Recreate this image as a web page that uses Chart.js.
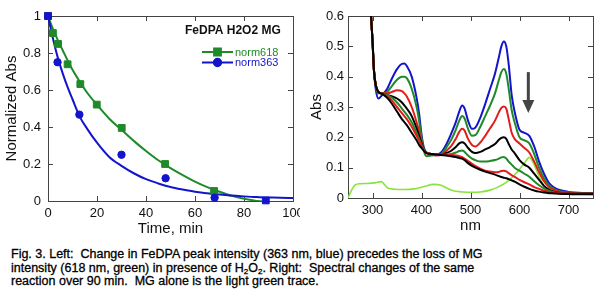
<!DOCTYPE html>
<html>
<head>
<meta charset="utf-8">
<script src="https://cdn.jsdelivr.net/npm/chart.js@4"></script>
<style>
  body { margin: 0; background: #fff; width: 604px; height: 292px; overflow: hidden; position: relative; font-family: Arial, "Liberation Sans", sans-serif; }
  #left { position: absolute; left: 0; top: 0; }
  #right { position: absolute; left: 300px; top: 0; }
  .caption { position: absolute; left: 11px; top: 248px; font-size: 12.5px; line-height: 13.5px; white-space: pre; color: #000; -webkit-text-stroke: 0.3px #000; }
  .caption sub { font-size: 8px; vertical-align: -2px; line-height: 0; }
</style>
</head>
<body>
<canvas id="left" width="300" height="240" style="width:300px;height:240px"></canvas>
<canvas id="right" width="304" height="240" style="width:304px;height:240px"></canvas>
<div class="caption">Fig. 3. Left:  Change in FeDPA peak intensity (363 nm, blue) precedes the loss of MG
intensity (618 nm, green) in presence of H<sub>2</sub>O<sub>2</sub>. Right:  Spectral changes of the same
reaction over 90 min.  MG alone is the light green trace.</div>
<script>
// left panel: normalized decay
const time618 = [0, 2, 4.1, 8, 13.2, 19.9, 30.1, 47.8, 67.8];
const norm618 = [1, 0.908, 0.849, 0.739, 0.632, 0.521, 0.395, 0.2, 0.054];
const time363 = [0, 3.9, 12.8, 30, 48, 68, 88.9];
const norm363 = [1, 0.75, 0.467, 0.25, 0.123, 0.018, 0.003];
const marker363 = ['rect', 'circle', 'circle', 'circle', 'circle', 'circle', 'rect'];

const fitTime618 = [0, 2, 4, 6, 8, 10, 13, 16, 20, 25, 30, 35, 40, 45, 50, 55, 60, 65, 70, 75, 80, 84, 88];
const fit618 = [1, 0.93, 0.87, 0.815, 0.76, 0.71, 0.645, 0.585, 0.52, 0.445, 0.385, 0.325, 0.27, 0.22, 0.178, 0.14, 0.105, 0.075, 0.05, 0.028, 0.012, 0.003, -0.004];
const fitTime363 = [0, 2, 4, 6, 8, 10, 13, 16, 20, 25, 30, 35, 40, 45, 50, 55, 60, 65, 70, 75, 80, 85, 90, 95, 100];
const fit363 = [1, 0.88, 0.775, 0.69, 0.615, 0.55, 0.455, 0.39, 0.315, 0.238, 0.19, 0.15, 0.118, 0.095, 0.076, 0.062, 0.05, 0.042, 0.035, 0.03, 0.025, 0.021, 0.019, 0.017, 0.016];

const timeTicks = [0, 20, 40, 60, 80, 100];
const normTicks = [0, 0.2, 0.4, 0.6, 0.8, 1];
const normLabels = ['0', '0.2', '0.4', '0.6', '0.8', '1'];

// right panel: spectra
const wavelengths = [290, 297, 300, 303, 307, 312, 320, 330, 340, 350, 360, 365, 370, 380, 390, 395, 400, 405, 410, 420,
  430, 440, 450, 460, 470, 477, 483, 488, 495, 503, 510, 520, 530, 540, 550, 558, 563, 568, 573, 578,
  584, 590, 600, 610, 620, 630, 640, 650, 660, 670, 680, 700, 720, 750];
const spec0 = [0.75, 0.6, 0.52, 0.42, 0.355, 0.328, 0.34, 0.36, 0.395, 0.425, 0.442, 0.443, 0.435, 0.4, 0.33, 0.28, 0.21, 0.165, 0.15, 0.145,
  0.142, 0.15, 0.175, 0.21, 0.25, 0.285, 0.305, 0.295, 0.255, 0.228, 0.232, 0.265, 0.31, 0.36, 0.41, 0.465, 0.5, 0.516, 0.5, 0.44,
  0.34, 0.285, 0.225, 0.215, 0.205, 0.17, 0.12, 0.08, 0.05, 0.035, 0.027, 0.02, 0.017, 0.016];
const spec1 = [0.75, 0.6, 0.52, 0.42, 0.365, 0.345, 0.345, 0.35, 0.37, 0.39, 0.4, 0.4, 0.395, 0.36, 0.3, 0.255, 0.2, 0.155, 0.138, 0.14,
  0.142, 0.145, 0.165, 0.19, 0.225, 0.255, 0.27, 0.262, 0.228, 0.205, 0.207, 0.235, 0.27, 0.305, 0.345, 0.39, 0.415, 0.425, 0.41, 0.36,
  0.29, 0.25, 0.2, 0.19, 0.18, 0.145, 0.1, 0.065, 0.042, 0.03, 0.023, 0.018, 0.016, 0.015];
const spec2 = [0.75, 0.6, 0.52, 0.42, 0.37, 0.35, 0.345, 0.345, 0.35, 0.355, 0.352, 0.345, 0.335, 0.3, 0.25, 0.22, 0.185, 0.16, 0.148, 0.143,
  0.14, 0.142, 0.155, 0.17, 0.195, 0.218, 0.228, 0.222, 0.195, 0.175, 0.17, 0.183, 0.205, 0.23, 0.255, 0.283, 0.297, 0.302, 0.295, 0.26,
  0.215, 0.195, 0.18, 0.165, 0.15, 0.12, 0.085, 0.055, 0.036, 0.027, 0.021, 0.017, 0.015, 0.015];
const spec3 = [0.75, 0.6, 0.52, 0.42, 0.37, 0.35, 0.345, 0.34, 0.335, 0.328, 0.315, 0.305, 0.295, 0.27, 0.23, 0.205, 0.18, 0.16, 0.15, 0.145,
  0.145, 0.142, 0.148, 0.155, 0.168, 0.18, 0.184, 0.18, 0.165, 0.152, 0.148, 0.152, 0.16, 0.168, 0.178, 0.192, 0.198, 0.2, 0.195, 0.178,
  0.16, 0.148, 0.125, 0.11, 0.1, 0.08, 0.06, 0.04, 0.028, 0.021, 0.017, 0.015, 0.014, 0.014];
const spec4 = [0.75, 0.6, 0.52, 0.42, 0.37, 0.35, 0.345, 0.34, 0.33, 0.315, 0.295, 0.285, 0.275, 0.25, 0.215, 0.195, 0.175, 0.16, 0.15, 0.145,
  0.145, 0.143, 0.143, 0.145, 0.15, 0.155, 0.157, 0.152, 0.14, 0.13, 0.125, 0.12, 0.12, 0.122, 0.125, 0.13, 0.134, 0.135, 0.13, 0.12,
  0.11, 0.1, 0.09, 0.08, 0.07, 0.055, 0.042, 0.032, 0.024, 0.019, 0.016, 0.014, 0.013, 0.013];
const spec5 = [0.75, 0.6, 0.52, 0.42, 0.37, 0.35, 0.345, 0.335, 0.32, 0.3, 0.28, 0.27, 0.26, 0.235, 0.205, 0.19, 0.17, 0.158, 0.15, 0.145,
  0.143, 0.142, 0.142, 0.142, 0.14, 0.138, 0.135, 0.13, 0.122, 0.113, 0.105, 0.097, 0.09, 0.087, 0.085, 0.086, 0.089, 0.09, 0.088, 0.082,
  0.075, 0.07, 0.06, 0.052, 0.045, 0.036, 0.03, 0.024, 0.02, 0.017, 0.016, 0.014, 0.013, 0.013];
const spec6 = [0.75, 0.6, 0.52, 0.42, 0.37, 0.35, 0.343, 0.33, 0.31, 0.285, 0.26, 0.25, 0.24, 0.215, 0.19, 0.175, 0.165, 0.155, 0.148, 0.145,
  0.143, 0.142, 0.14, 0.138, 0.135, 0.132, 0.13, 0.125, 0.115, 0.106, 0.1, 0.093, 0.087, 0.082, 0.077, 0.072, 0.069, 0.067, 0.065, 0.062,
  0.058, 0.054, 0.045, 0.037, 0.03, 0.025, 0.021, 0.018, 0.016, 0.015, 0.014, 0.013, 0.012, 0.012];
const specColors = ['#1414cc', '#1e8a28', '#e41c1c', '#000000', '#1e8a28', '#e41c1c', '#000000'];

const mgWave = [250, 257, 265, 275, 290, 305, 318, 324, 332, 345, 365, 385, 405, 425, 440, 455, 470, 485, 500, 520,
  540, 555, 570, 585, 600, 610, 620, 630, 640, 650, 660, 680, 700, 750];
const mgAbs = [0, 0.025, 0.043, 0.047, 0.048, 0.05, 0.054, 0.045, 0.032, 0.029, 0.028, 0.03, 0.038, 0.045, 0.042, 0.03, 0.022, 0.02, 0.019, 0.02,
  0.026, 0.035, 0.048, 0.068, 0.095, 0.115, 0.134, 0.11, 0.07, 0.04, 0.025, 0.016, 0.013, 0.012];

const nmTicks = [300, 400, 500, 600, 700];
const nmLabels = ['300', '400', '500', '600', '700'];
const absTicks = [0, 0.1, 0.2, 0.3, 0.4, 0.5, 0.6];
const absLabels = ['0', '0.1', '0.2', '0.3', '0.4', '0.5', '0.6'];
const timeLabels = ['0', '20', '40', '60', '80', '100'];
const arrowNm = 618;
const arrowFrom = 0.415;
const arrowTo = 0.28;

const FONT = 'Arial, "Liberation Sans", sans-serif';
const BLUE = '#1414cc';
const GREEN = '#1e8a28';
const FRAME = '#444';

function pts(xs, ys) {
  return xs.map((x, i) => ({x: x, y: ys[i]}));
}

// box round the plot area with short inward ticks on every side
const frameTicks = {
  id: 'frameTicks',
  beforeDatasetsDraw(chart) {
    const ctx = chart.ctx;
    const a = chart.chartArea;
    const xs = chart.scales.x;
    const ys = chart.scales.y;
    ctx.save();
    ctx.strokeStyle = FRAME;
    ctx.lineWidth = 1;
    ctx.strokeRect(Math.round(a.left) + 0.5, Math.round(a.top) + 0.5, Math.round(a.right - a.left), Math.round(a.bottom - a.top));
    ctx.beginPath();
    xs.ticks.forEach(t => {
      const px = Math.round(xs.getPixelForValue(t.value)) + 0.5;
      ctx.moveTo(px, a.bottom); ctx.lineTo(px, a.bottom - 5);
      ctx.moveTo(px, a.top); ctx.lineTo(px, a.top + 5);
    });
    ys.ticks.forEach(t => {
      const py = Math.round(ys.getPixelForValue(t.value)) + 0.5;
      ctx.moveTo(a.left, py); ctx.lineTo(a.left + 5, py);
      ctx.moveTo(a.right, py); ctx.lineTo(a.right - 5, py);
    });
    ctx.stroke();
    ctx.restore();
  }
};

const leftNotes = {
  id: 'leftNotes',
  afterDraw(chart) {
    const ctx = chart.ctx;
    ctx.save();
    ctx.textAlign = 'left';
    ctx.textBaseline = 'middle';
    ctx.font = 'bold 12px ' + FONT;
    ctx.fillStyle = '#111';
    ctx.fillText('FeDPA H2O2 MG', 185, 31);
    const rows = [
      {label: 'norm618', color: GREEN, style: 'rect', r: 4.8, y: 52},
      {label: 'norm363', color: BLUE, style: 'circle', r: 3.7, y: 62.5}
    ];
    ctx.font = '11px ' + FONT;
    rows.forEach(row => {
      ctx.strokeStyle = row.color;
      ctx.fillStyle = row.color;
      ctx.lineWidth = 2;
      ctx.beginPath();
      ctx.moveTo(202, row.y); ctx.lineTo(233, row.y);
      ctx.stroke();
      Chart.helpers.drawPoint(ctx, {pointStyle: row.style, radius: row.r, borderWidth: 1}, 217.5, row.y);
      ctx.fillStyle = row.color;
      ctx.fillText(row.label, 235, row.y + 0.5);
    });
    ctx.restore();
  }
};

const arrowNote = {
  id: 'arrowNote',
  afterDraw(chart) {
    const ctx = chart.ctx;
    const px = chart.scales.x.getPixelForValue(arrowNm);
    const y0 = chart.scales.y.getPixelForValue(arrowFrom);
    const y1 = chart.scales.y.getPixelForValue(arrowTo);
    ctx.save();
    ctx.fillStyle = '#444';
    ctx.fillRect(px - 1.5, y0, 3, y1 - y0 - 10);
    ctx.beginPath();
    ctx.moveTo(px - 6, y1 - 13);
    ctx.lineTo(px + 6, y1 - 13);
    ctx.lineTo(px, y1);
    ctx.closePath();
    ctx.fill();
    ctx.restore();
  }
};

function axisX(min, max, ticks, labels, title, height, titlePad) {
  return {
    type: 'linear', min: min, max: max,
    grid: {display: false, drawTicks: false},
    border: {display: false},
    ticks: {color: '#111', font: {family: FONT, size: 13}, padding: 5, maxRotation: 0,
      callback: (v) => labels[ticks.indexOf(v)]},
    title: {display: true, text: title, color: '#111', font: {family: FONT, size: 15}, padding: {top: 0, bottom: titlePad}},
    afterBuildTicks: s => { s.ticks = ticks.map(v => ({value: v})); },
    afterFit: s => { s.height = height; s.paddingLeft = 0; s.paddingRight = 0; }
  };
}

function axisY(min, max, ticks, labels, title, width, pad, titlePad) {
  return {
    min: min, max: max,
    grid: {display: false, drawTicks: false},
    border: {display: false},
    ticks: {color: '#111', font: {family: FONT, size: 13}, padding: pad,
      callback: (v) => labels[ticks.indexOf(v)]},
    title: {display: true, text: title, color: '#111', font: {family: FONT, size: 15}, padding: {top: titlePad, bottom: 0}},
    afterBuildTicks: s => { s.ticks = ticks.map(v => ({value: v})); },
    afterFit: s => { s.width = width; s.paddingTop = 0; s.paddingBottom = 0; }
  };
}

new Chart(document.getElementById('left'), {
  type: 'line',
  data: {
    datasets: [
      {data: pts(time363, norm363), showLine: false, pointStyle: marker363, pointRadius: [4.8, 3.7, 3.7, 3.7, 3.7, 3.7, 4.8],
        backgroundColor: BLUE, borderColor: BLUE, borderWidth: 1, clip: false},
      {data: pts(time618, norm618), showLine: false, pointStyle: 'rect', pointRadius: 4.8,
        backgroundColor: GREEN, borderColor: GREEN, borderWidth: 1, clip: false},
      {data: pts(fitTime363, fit363), pointRadius: 0, borderWidth: 2, borderColor: BLUE, cubicInterpolationMode: 'monotone'},
      {data: pts(fitTime618, fit618), pointRadius: 0, borderWidth: 2, borderColor: GREEN, cubicInterpolationMode: 'monotone'}
    ]
  },
  options: {
    responsive: false, animation: false, events: [],
    layout: {padding: {top: 16, right: 7, left: 0, bottom: 0}},
    plugins: {legend: {display: false}, tooltip: {enabled: false}},
    scales: {
      x: axisX(0, 100, timeTicks, timeLabels, 'Time, min', 39, 2),
      y: axisY(0, 1, normTicks, normLabels, 'Normalized Abs', 48, 7, 3)
    }
  },
  plugins: [frameTicks, leftNotes]
});

const spectra = [spec0, spec1, spec2, spec3, spec4, spec5, spec6];
const specSets = spectra.map((s, i) => ({
  data: pts(wavelengths, s), pointRadius: 0, borderWidth: 2, borderColor: specColors[i],
  cubicInterpolationMode: 'monotone', order: spectra.length - i
}));
specSets.push({data: pts(mgWave, mgAbs), pointRadius: 0, borderWidth: 1.6, borderColor: '#86e43a',
  cubicInterpolationMode: 'monotone', order: 10});

new Chart(document.getElementById('right'), {
  type: 'line',
  data: {datasets: specSets},
  options: {
    responsive: false, animation: false, events: [],
    layout: {padding: {top: 16, right: 11, left: 0, bottom: 0}},
    plugins: {legend: {display: false}, tooltip: {enabled: false}},
    scales: {
      x: axisX(250, 750, nmTicks, nmLabels, 'nm', 42, 5),
      y: axisY(0, 0.6, absTicks, absLabels, 'Abs', 48, 4, 8)
    }
  },
  plugins: [frameTicks, arrowNote]
});
</script>
</body>
</html>
